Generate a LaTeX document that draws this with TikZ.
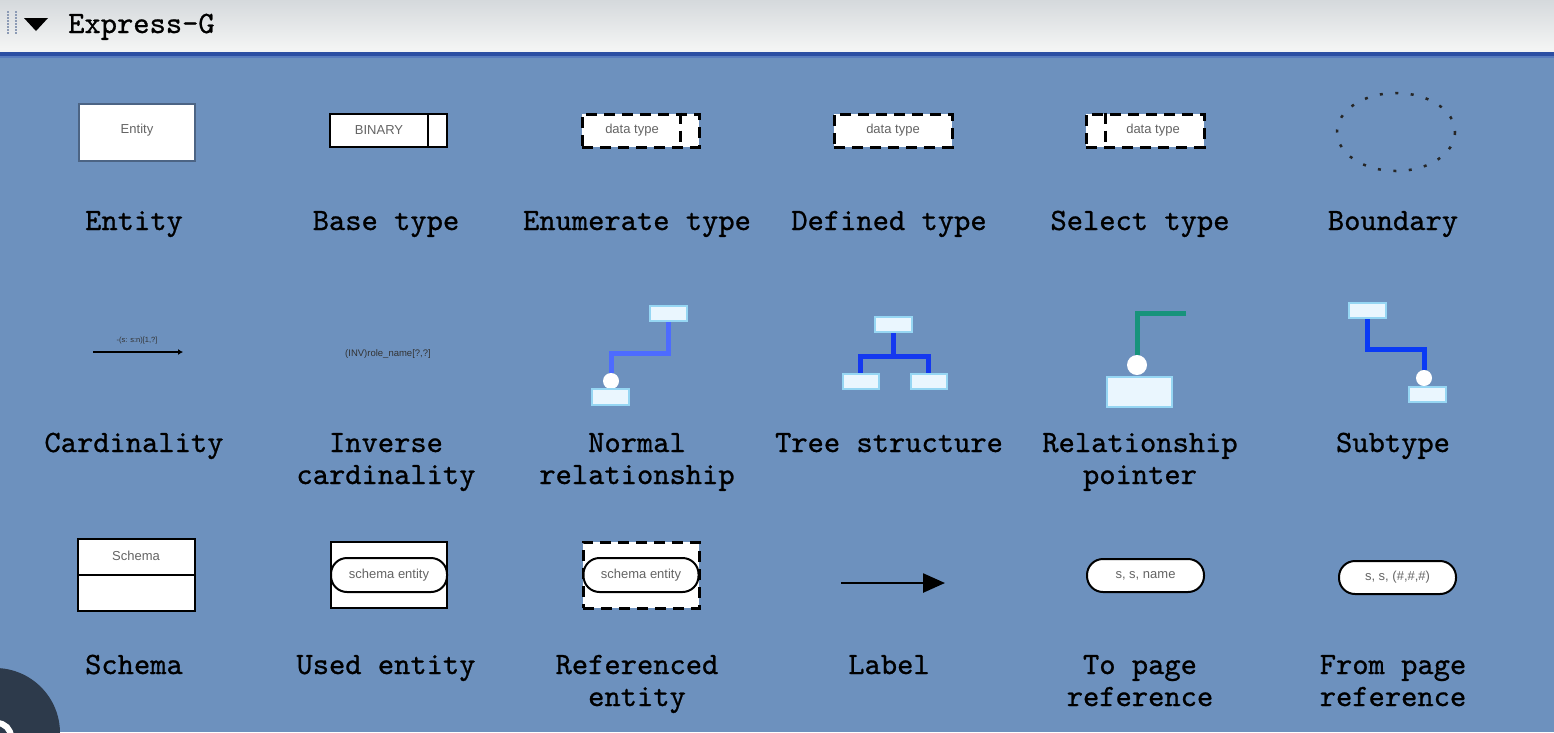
\documentclass[tikz,border=0pt]{standalone}
\usepackage{fontspec}
\setmainfont{Liberation Sans}
\newfontfamily\labfont{lmmono10-regular.otf}[FakeBold=0.8]
\usetikzlibrary{arrows.meta}
\definecolor{bodybg}{RGB}{109,145,190}
\definecolor{hdtop}{RGB}{213,217,220}
\definecolor{hdbot}{RGB}{243,244,244}
\definecolor{hdline}{RGB}{44,79,163}
\definecolor{hdline2}{RGB}{88,124,190}
\definecolor{darkc}{RGB}{45,58,75}
\definecolor{gripc}{RGB}{140,155,181}
\definecolor{tinygray}{RGB}{100,100,100}
\definecolor{entborder}{RGB}{76,100,132}
\definecolor{relfill}{RGB}{234,246,254}
\definecolor{relborder}{RGB}{150,214,243}
\definecolor{nrblue}{RGB}{77,107,255}
\definecolor{trblue}{RGB}{20,56,240}
\definecolor{rpgreen}{RGB}{23,147,123}
\definecolor{stblue}{RGB}{10,58,245}
\begin{document}
\begin{tikzpicture}[x=1pt,y=-1pt,
  lab/.style={font=\labfont\fontsize{31}{32}\selectfont, align=center, inner sep=0, anchor=base, text=black},
  tinytxt/.style={font=\fontsize{13}{13}\selectfont, text=tinygray, inner sep=0},
  whitebox/.style={draw=black, line width=2, fill=white, inner sep=0},
  dashbox/.style={draw=black, line width=3, dash pattern=on 11pt off 7pt, fill=white, inner sep=0},
  relbox/.style={draw=relborder, fill=relfill, line width=2, inner sep=0},
  relcirc/.style={circle, fill=white, inner sep=0},
  pill/.style={draw=black, line width=2, fill=white, rounded corners=16, inner sep=0},
  relline/.style={line width=5, line join=miter}
]
\useasboundingbox (0,0) rectangle (1554,732);
% background
\shade[top color=hdtop, bottom color=hdbot] (0,0) rectangle (1554,48);
\fill[hdbot] (0,48) rectangle (1554,52);
\fill[hdline] (0,52) rectangle (1554,56);
\fill[hdline2] (0,56) rectangle (1554,58);
\fill[bodybg] (0,58) rectangle (1554,732);
% header
\foreach \yy in {11,14,...,32} {
  \fill[gripc] (7,\yy) rectangle (8.6,\yy+1.6);
  \fill[gripc] (15,\yy) rectangle (16.6,\yy+1.6);
}
\fill[black] (24,18) -- (48,18) -- (36,31) -- cycle;
\node[lab, anchor=base west] (title) at (68,33) {Express-G};

% ---- row 1
\node[draw=entborder, line width=1.5, fill=white, minimum width=116, minimum height=57, inner sep=0] (ent) at (137,132.5) {};
\node[tinytxt] (entt) at (137,130) {Entity};

\node[whitebox, minimum width=117, minimum height=33] (bt) at (388.5,130.5) {};
\coordinate (btd) at (428,0);
\draw[line width=2] (bt.north -| btd) -- (bt.south -| btd);
\node[tinytxt] (btt) at (379,130) {BINARY};

\node[dashbox, minimum width=117, minimum height=33] (en) at (640.5,130.5) {};
\coordinate (end) at (680,0);
\draw[line width=3, dash pattern=on 11pt off 7pt] (en.north -| end) -- (en.south -| end);
\node[tinytxt] (ent2) at (632,130) {data type};

\node[dashbox, minimum width=118, minimum height=33] (df) at (893,130.5) {};
\node[tinytxt] (dft) at (893,130) {data type};

\node[dashbox, minimum width=118, minimum height=33] (sl) at (1145,130.5) {};
\coordinate (sld) at (1105,0);
\draw[line width=3, dash pattern=on 11pt off 7pt] (sl.north -| sld) -- (sl.south -| sld);
\node[tinytxt] (slt) at (1153,130) {data type};

\draw[line width=2.5, dash pattern=on 3pt off 12.5pt, draw=black!85] (1396,132) ellipse [x radius=59, y radius=39];

\node[lab] (l1) at (134,230) {Entity};
\node[lab] (l2) at (386,230) {Base type};
\node[lab] (l3) at (637,230) {Enumerate type};
\node[lab] (l4) at (889,230) {Defined type};
\node[lab] (l5) at (1140,230) {Select type};
\node[lab] (l6) at (1393,230) {Boundary};

% ---- row 2
\coordinate (ca) at (93,352);
\coordinate (cb) at (183,352);
\draw[line width=2.5, -{Latex[length=5,width=6]}] (ca) -- (cb);
\node[font=\fontsize{7.5}{7.5}\selectfont, text=black!80, inner sep=0] (cat) at (137,341) {-(s: s:n)[1,?]};

\node[font=\fontsize{9.5}{9.5}\selectfont, text=black!80, inner sep=0] (inv) at (388,354) {(INV)role\_name[?,?]};

% normal relationship
\node[relbox, minimum width=37, minimum height=15] (nrtop) at (668,313.5) {};
\node[relcirc, minimum size=16] (nrcirc) at (611,381) {};
\node[relbox, minimum width=37, minimum height=16] (nrbot) at (610,397) {};
\draw[relline, nrblue] (nrtop.south) -- ++(0,31) -| (nrcirc.north);

% tree
\node[relbox, minimum width=37, minimum height=15] (trtop) at (893,324.5) {};
\node[relbox, minimum width=36, minimum height=15] (trl) at (860.5,381) {};
\node[relbox, minimum width=36, minimum height=15] (trr) at (928.5,381) {};
\draw[relline, trblue] (trtop.south) -- ++(0,23) coordinate (trj);
\draw[relline, trblue] (trl.north) |- (trj) -| (trr.north);

% relationship pointer
\coordinate (rpend) at (1186,313);
\node[relcirc, minimum size=20] (rpcirc) at (1137,365) {};
\node[relbox, minimum width=65, minimum height=30] (rpbox) at (1139.5,392) {};
\draw[relline, rpgreen] (rpend) -| (rpcirc.north);

% subtype
\node[relbox, minimum width=37, minimum height=15] (sttop) at (1367,310.5) {};
\node[relcirc, minimum size=16] (stcirc) at (1424,378) {};
\node[relbox, minimum width=37, minimum height=15] (stbot) at (1427,394.5) {};
\draw[relline, stblue] (sttop.south) -- ++(0,30) -| (stcirc.north);

\node[lab] (m1) at (134,452) {Cardinality};
\node[lab] (m2) at (386,484) {Inverse\\cardinality};
\node[lab] (m3) at (637,484) {Normal\\relationship};
\node[lab] (m4) at (889,452) {Tree structure};
\node[lab] (m5) at (1140,484) {Relationship\\pointer};
\node[lab] (m6) at (1393,452) {Subtype};

% ---- row 3
\node[whitebox, minimum width=117, minimum height=72] (sc) at (136.5,575) {};
\draw[line width=2] (sc.west) -- (sc.east);
\node[tinytxt] (sct) at (136,556) {Schema};

\node[whitebox, minimum width=116, minimum height=66] (ue) at (389,575) {};
\node[pill, minimum width=116, minimum height=34] (uep) at (389,575) {};
\node[tinytxt] (uet) at (389,575) {schema entity};

\node[dashbox, minimum width=116, minimum height=66] (re) at (641,575) {};
\node[pill, minimum width=115, minimum height=34] (rep) at (641,575) {};
\node[tinytxt] (ret) at (641,575) {schema entity};

\coordinate (la) at (841,583);
\coordinate (lb) at (945,583);
\draw[line width=2.5, -{Triangle[length=22,width=19]}] (la) -- (lb);

\node[pill, minimum width=117, minimum height=33] (tp) at (1145.5,575.5) {};
\node[tinytxt] (tpt) at (1145.5,575.5) {s, s, name};

\node[pill, minimum width=117, minimum height=33] (fp) at (1397.5,577.5) {};
\node[tinytxt] (fpt) at (1397.5,577.5) {s, s, (\#,\#,\#)};

\node[lab] (n1) at (134,674) {Schema};
\node[lab] (n2) at (386,674) {Used entity};
\node[lab] (n3) at (637,706) {Referenced\\entity};
\node[lab] (n4) at (889,674) {Label};
\node[lab] (n5) at (1140,706) {To page\\reference};
\node[lab] (n6) at (1393,706) {From page\\reference};

% corner overlay
\begin{scope}
\clip (0,0) rectangle (1554,732);
\fill[darkc] (-5,733) circle (65);
\draw[white, line width=6] (-3,737) circle (14);
\end{scope}
\end{tikzpicture}
\end{document}
